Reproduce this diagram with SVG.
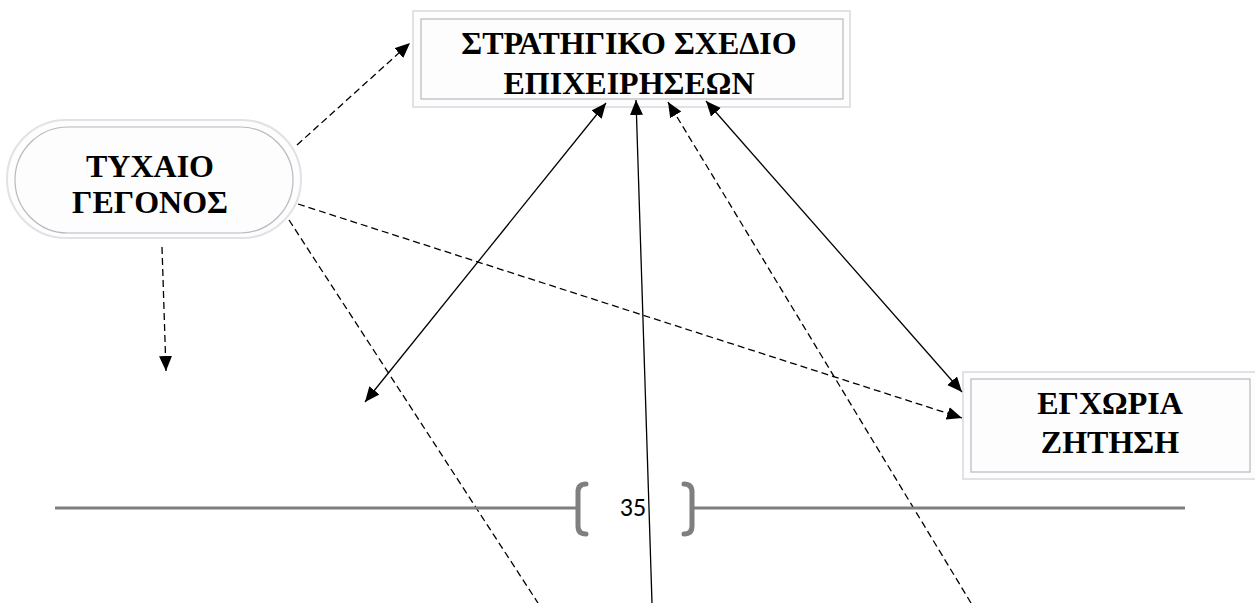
<svg xmlns="http://www.w3.org/2000/svg" width="1255" height="603" viewBox="0 0 1255 603">
<style>
.t{font-family:"Liberation Serif","Times New Roman",serif;font-weight:bold;font-size:32px;fill:#000;text-anchor:middle}
.ob{fill:#fdfdfd;stroke:#e2e2e6;stroke-width:2}
.ib{fill:#fdfdfd;stroke:#b8b8c0;stroke-width:1.2}
.c{stroke:#000;stroke-width:1.3;fill:none}
.d{stroke-dasharray:7,4}
.f{stroke:#7f7f7f;fill:none}
</style>
<defs>
<marker id="ah" markerUnits="userSpaceOnUse" markerWidth="16" markerHeight="14" refX="15" refY="6.5" orient="auto-start-reverse">
<path d="M0,0 L15,6.5 L0,13 Z" fill="#000"/>
</marker>
</defs>
<rect width="1255" height="603" fill="#fff"/>
<g id="n-strategic">
<rect class="ob" x="413" y="11" width="437" height="96"/>
<rect class="ib" x="421" y="19" width="422" height="80"/>
<text class="t" x="629" y="54">ΣΤΡΑΤΗΓΙΚΟ ΣΧΕΔΙΟ</text>
<text class="t" x="629" y="94">ΕΠΙΧΕΙΡΗΣΕΩΝ</text>
</g>
<g id="n-event">
<rect class="ob" x="7" y="120" width="294" height="118" rx="59"/>
<rect class="ib" x="15" y="127" width="278" height="106" rx="53"/>
<text class="t" x="150" y="177">ΤΥΧΑΙΟ</text>
<text class="t" x="150" y="213">ΓΕΓΟΝΟΣ</text>
</g>
<g id="n-demand">
<rect class="ob" x="963" y="372" width="300" height="107"/>
<rect class="ib" x="971" y="379" width="279" height="93"/>
<text class="t" x="1110" y="414">ΕΓΧΩΡΙΑ</text>
<text class="t" x="1110" y="453">ΖΗΤΗΣΗ</text>
</g>
<g id="connectors">
<line class="c d" x1="297" y1="145" x2="410" y2="43" marker-end="url(#ah)"/>
<line class="c d" x1="298" y1="204" x2="962" y2="418" marker-end="url(#ah)"/>
<line class="c d" x1="289" y1="220" x2="538" y2="603"/>
<line class="c d" x1="162" y1="247" x2="166" y2="371" marker-end="url(#ah)"/>
<line class="c" x1="365" y1="402" x2="606" y2="103" marker-start="url(#ah)" marker-end="url(#ah)"/>
<line class="c" x1="652" y1="603" x2="636" y2="100" marker-end="url(#ah)"/>
<line class="c d" x1="971" y1="603" x2="668" y2="102" marker-end="url(#ah)"/>
<line class="c" x1="706" y1="101" x2="962" y2="392" marker-start="url(#ah)" marker-end="url(#ah)"/>
</g>
<g id="footer">
<line class="f" x1="55" y1="508" x2="577" y2="508" stroke-width="3"/>
<line class="f" x1="692" y1="508" x2="1185" y2="508" stroke-width="3"/>
<path class="f" d="M586,484 Q578,484 578,492 L578,526 Q578,534 586,534" stroke-width="5" stroke-linecap="round"/>
<path class="f" d="M684,484 Q692,484 692,492 L692,526 Q692,534 684,534" stroke-width="5" stroke-linecap="round"/>
<text x="633" y="516" font-family="Carlito,'Liberation Sans',Arial,sans-serif" font-size="26" fill="#000" text-anchor="middle">35</text>
</g>
</svg>
